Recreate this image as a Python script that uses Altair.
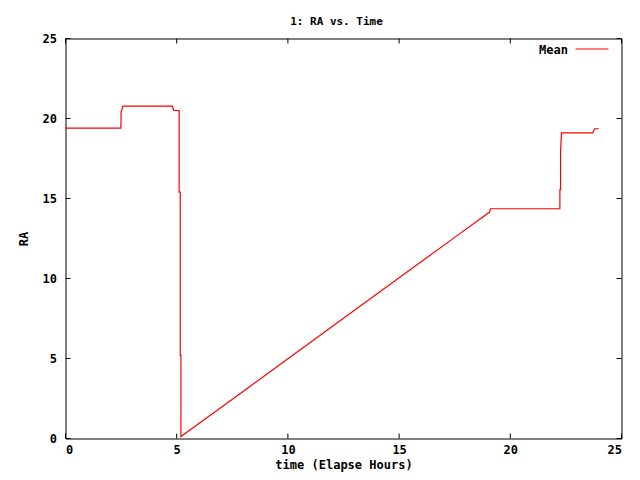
import altair as alt
import pandas as pd

# Mean RA vs elapsed time
time_h = [0.0, 2.49, 2.50, 2.58, 4.80, 4.87, 5.11, 5.11, 5.16, 5.16, 5.19, 5.19,
          8.0, 10.0, 12.5, 15.0, 17.5, 19.07, 19.11, 22.23, 22.23, 22.26, 22.26, 22.30,
          23.71, 23.79, 23.98]
ra = [19.4, 19.4, 20.4, 20.77, 20.77, 20.5, 20.5, 15.4, 15.4, 5.2, 5.2, 0.12,
      2.96, 4.98, 7.51, 10.04, 12.57, 14.15, 14.36, 14.36, 15.56, 15.56, 17.9, 19.1,
      19.1, 19.36, 19.36]
series_name = "Mean"
x_ticks = [0, 5, 10, 15, 20, 25]
y_ticks = [0, 5, 10, 15, 20, 25]

W, H = 556, 400
FONT = "DejaVu Sans Mono"
RED = "#ff0000"

df = pd.DataFrame({"time": time_h, "ra": ra, "series": series_name})
df["order"] = range(len(df))
xt = pd.DataFrame({"v": x_ticks})
yt = pd.DataFrame({"v": y_ticks})

xscale = alt.Scale(domain=[0, 25], nice=False, zero=False)
yscale = alt.Scale(domain=[0, 25], nice=False, zero=False)

line = alt.Chart(df).mark_line(color=RED, strokeWidth=1.2, interpolate="linear").encode(
    x=alt.X("time:Q", scale=xscale,
            axis=alt.Axis(title="time (Elapse Hours)", values=x_ticks, format="d",
                          tickSize=0, domain=False, grid=False, labelPadding=11,
                          labelBaseline="middle", labelFont=FONT, labelFontSize=12,
                          labelFontWeight="bold", labelColor="black",
                          titleFont=FONT, titleFontSize=12, titleFontWeight="bold",
                          titleColor="black", titleY=26, titleBaseline="middle")),
    y=alt.Y("ra:Q", scale=yscale,
            axis=alt.Axis(title="RA", values=y_ticks, format="d",
                          tickSize=0, domain=False, grid=False, labelPadding=9,
                          labelBaseline="middle", labelFont=FONT, labelFontSize=12,
                          labelFontWeight="bold", labelColor="black",
                          titleFont=FONT, titleFontSize=12, titleFontWeight="bold",
                          titleColor="black", titleX=-42, titleY=200,
                          titleBaseline="middle", titleAlign="center")),
    order="order:Q",
)

bottom_ticks = alt.Chart(xt).mark_rule(color="black", strokeWidth=1).encode(
    x=alt.X("v:Q", scale=xscale), y=alt.value(H), y2=alt.value(H - 5))
top_ticks = alt.Chart(xt).mark_rule(color="black", strokeWidth=1).encode(
    x=alt.X("v:Q", scale=xscale), y=alt.value(0), y2=alt.value(5))
left_ticks = alt.Chart(yt).mark_rule(color="black", strokeWidth=1).encode(
    y=alt.Y("v:Q", scale=yscale), x=alt.value(0), x2=alt.value(5))
right_ticks = alt.Chart(yt).mark_rule(color="black", strokeWidth=1).encode(
    y=alt.Y("v:Q", scale=yscale), x=alt.value(W), x2=alt.value(W - 5))

leg_df = pd.DataFrame({"series": [series_name]})
leg_text = alt.Chart(leg_df).mark_text(
    font=FONT, fontSize=12, fontWeight="bold", color="black", align="right",
    baseline="middle").encode(text="series:N", x=alt.value(502.5), y=alt.value(11))
leg_line = alt.Chart(leg_df).mark_rule(color=RED, strokeWidth=1.2).encode(
    x=alt.value(510), x2=alt.value(543), y=alt.value(10.5), detail="series:N")

chart = alt.layer(line, bottom_ticks, top_ticks, left_ticks, right_ticks,
                  leg_text, leg_line).properties(
    width=W, height=H,
    title=alt.TitleParams("1: RA vs. Time", font=FONT, fontSize=11, fontWeight="bold",
                          color="black", anchor="middle", offset=6, dx=-7),
    autosize=alt.AutoSizeParams(type="none"),
    padding={"left": 57.5, "top": 30.5, "right": 10, "bottom": 33.5},
).configure(background="white").configure_view(stroke="black", strokeWidth=1)

chart.save("out.html", embed_options={"renderer": "svg", "actions": False})
